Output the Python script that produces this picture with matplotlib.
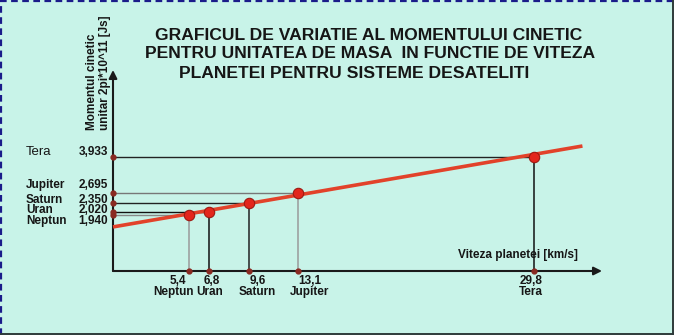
"""
Graficul momentului cinetic unitar in functie de viteza planetei
"""

import matplotlib

matplotlib.use("Agg")
import matplotlib.pyplot as plt
from matplotlib.lines import Line2D

plt.rcParams["font.family"] = ["Liberation Sans", "DejaVu Sans"]

# date
planets = ["Neptun", "Uran", "Saturn", "Jupiter", "Tera"]
speed = [5.4, 6.8, 9.6, 13.1, 29.8]
momentum = [1.940, 2.020, 2.350, 2.695, 3.933]
speed_labels = ["5,4", "6,8", "9,6", "13,1", "29,8"]
momentum_labels = ["1,940", "2,020", "2,350", "2,695", "3,933"]
fit_x = [0.0, 33.2]
fit_y = [1.52, 4.31]

# culori linii ajutatoare (verticale / orizontale)
guide_colors = ["#9a9a9a", "#111111", "#222222", "#9a9a9a", "#111111"]
hguide_colors = ["#888888", "#111111", "#222222", "#777777", "#222222"]

# deplasari ale etichetelor (puncte), ca in desenul original
xnum_dx = [-8.6, 2.2, 6.5, 8.6, -2.2]
xname_dx = [-11.5, 0.7, 5.8, 7.9, -2.2]
ylab_dy = [-4.5, 2.1, 1.7, 5.6, 3.2]

BG = "#c8f3e8"
TXT = "#161616"

fig = plt.figure(figsize=(6.74, 3.35), dpi=100, facecolor=BG)

# chenar: punctat sus/stanga, plin jos/dreapta
fig.add_artist(Line2D([0.002, 0.002], [0, 1], transform=fig.transFigure,
                      color="#1b1b8a", lw=1.6, ls=(0, (3, 2))))
fig.add_artist(Line2D([0, 1], [0.997, 0.997], transform=fig.transFigure,
                      color="#1b1b8a", lw=1.6, ls=(0, (3, 2))))
fig.add_artist(Line2D([0.998, 0.998], [0, 1], transform=fig.transFigure,
                      color="#2e3a3a", lw=1.4))
fig.add_artist(Line2D([0, 1], [0.004, 0.004], transform=fig.transFigure,
                      color="#2e3a3a", lw=1.4))

W, H = 674, 335
x0, x1, y0, y1 = 113, 602, 271, 70
ax = fig.add_axes([x0 / W, (H - y0) / H, (x1 - x0) / W, (y0 - y1) / H])
ax.set_xlim(0, (x1 - x0) / 14.14)
ax.set_ylim(0, (y0 - y1) / 29.0)
ax.axis("off")
xmax = ax.get_xlim()[1]
ymax = ax.get_ylim()[1]

# axe cu sageti
ax.annotate("", xy=(xmax, 0), xytext=(0, 0), annotation_clip=False,
            arrowprops=dict(arrowstyle="-|>", color="#1a1a1a", lw=1.5,
                            mutation_scale=12, shrinkA=0, shrinkB=0))
ax.annotate("", xy=(0, ymax), xytext=(0, 0), annotation_clip=False,
            arrowprops=dict(arrowstyle="-|>", color="#1a1a1a", lw=1.5,
                            mutation_scale=12, shrinkA=0, shrinkB=0))

# linii ajutatoare
for x, y, vc, hc in zip(speed, momentum, guide_colors, hguide_colors):
    ax.plot([x, x], [0, y], color=vc, lw=1.1, zorder=2)
    ax.plot([0, x], [y, y], color=hc, lw=1.0, zorder=2)

# dreapta de regresie
ax.plot(fit_x, fit_y, color="#e2422a", lw=2.6, zorder=3, clip_on=False,
        solid_capstyle="butt")

# puncte
ax.plot(speed, momentum, "o", ms=7.5, color="#e3261c", mec="#9e1a12",
        mew=0.8, zorder=4, clip_on=False)
ax.plot(speed, [0] * len(speed), "o", ms=3.5, color="#8a2a22", zorder=5,
        clip_on=False)
ax.plot([0] * len(momentum), momentum, "o", ms=3.5, color="#8a2a22",
        zorder=5, clip_on=False)

# etichete axa x
for x, lab, name, dxn, dxp in zip(speed, speed_labels, planets,
                                  xnum_dx, xname_dx):
    ax.annotate(lab, xy=(x, 0), xytext=(dxn, -3), textcoords="offset points",
                ha="center", va="top", fontsize=8.5, color=TXT,
                fontweight="bold", annotation_clip=False)
    ax.annotate(name, xy=(x, 0), xytext=(dxp, -10.5),
                textcoords="offset points", ha="center", va="top",
                fontsize=8.5, color=TXT, fontweight="bold",
                annotation_clip=False)

# etichete axa y
for y, lab, name, dy in zip(momentum, momentum_labels, planets, ylab_dy):
    ax.annotate(lab, xy=(0, y), xytext=(-3.6, dy), textcoords="offset points",
                ha="right", va="center", fontsize=8.5, color=TXT,
                fontweight="bold", annotation_clip=False)
    tera = name == "Tera"
    ax.annotate(name, xy=(0, y), xytext=(-62.6, dy),
                textcoords="offset points", ha="left", va="center",
                fontsize=9.5 if tera else 8.5, color=TXT,
                fontweight="normal" if tera else "bold",
                annotation_clip=False)

# titluri axe
fig.text(92 / W, 1 - 130 / H, "Momentul cinetic", rotation=90, ha="center",
         va="bottom", fontsize=8.5, color=TXT, fontweight="bold")
fig.text(105 / W, 1 - 130 / H, "unitar 2pi*10^11 [Js]", rotation=90,
         ha="center", va="bottom", fontsize=8.5, color=TXT, fontweight="bold")
fig.text(518 / W, 1 - 255 / H, "Viteza planetei [km/s]", ha="center",
         va="center", fontsize=8.5, color=TXT, fontweight="bold")

title_lines = [
    "GRAFICUL DE VARIATIE AL MOMENTULUI CINETIC",
    "PENTRU UNITATEA DE MASA  IN FUNCTIE DE VITEZA",
    "PLANETEI PENTRU SISTEME DESATELITI",
]
title_x = [369, 370, 354]
for i, (line, tx) in enumerate(zip(title_lines, title_x)):
    fig.text(tx / W, 1 - (35 + 19 * i) / H, line, ha="center", va="center",
             fontsize=12.6, fontweight="bold", color=TXT)

fig.savefig("out.png", dpi=100, facecolor=BG)
